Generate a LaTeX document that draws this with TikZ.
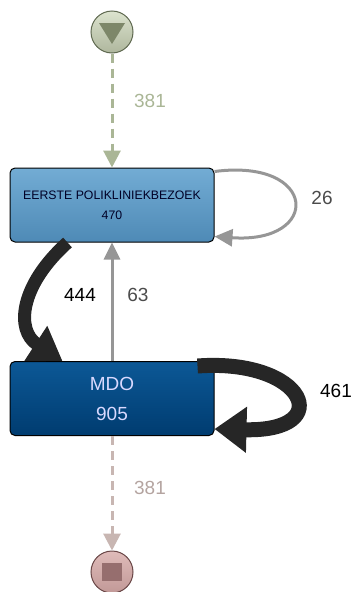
\documentclass[tikz,border=0pt]{standalone}
\usepackage{fontspec}
\setmainfont{Liberation Sans}
\usetikzlibrary{arrows.meta}
\definecolor{startfill}{RGB}{205,215,185}
\definecolor{startdraw}{RGB}{95,105,80}
\definecolor{startmark}{RGB}{125,135,105}
\definecolor{startedge}{RGB}{170,182,150}
\definecolor{endfill}{RGB}{215,170,168}
\definecolor{enddraw}{RGB}{105,70,70}
\definecolor{endmark}{RGB}{150,110,110}
\definecolor{endedge}{RGB}{200,182,178}
\definecolor{lighttop}{RGB}{115,172,212}
\definecolor{lightbot}{RGB}{78,138,182}
\definecolor{darktop}{RGB}{12,88,150}
\definecolor{darkbot}{RGB}{0,60,112}
\definecolor{looplight}{RGB}{150,150,150}
\definecolor{loopdark}{RGB}{100,100,100}
\definecolor{labelgrey}{RGB}{75,75,75}

\begin{document}
\begin{tikzpicture}
[x=1pt, y=1pt, every node/.style={inner sep=0pt},
 act/.style={rectangle, rounded corners=5pt, draw=black, line width=1pt, minimum width=204pt, minimum height=74pt, align=center},
 lbl/.style={font=\fontsize{19}{22}\selectfont}]
\useasboundingbox (0pt, 0pt) rectangle (354pt, -592pt);
\node (start) [circle, minimum size=42pt, top color=startfill!70!white, bottom color=startfill!85!black, line width=1pt, draw=startdraw] at (112pt, -32pt) {};
\node (eerste) [act, top color=lighttop, bottom color=lightbot, text=black!85!blue, font=\fontsize{12.3}{20}\selectfont] at (112pt, -205pt) {EERSTE POLIKLINIEKBEZOEK\\ 470};
\node (mdo) [act, top color=darktop, bottom color=darkbot, text=white!85!blue, font=\fontsize{19}{30}\selectfont] at (112pt, -398.5pt) {MDO\\ 905};
\node (end) [circle, minimum size=42pt, top color=endfill!80!white, bottom color=endfill!90!black, line width=1pt, draw=enddraw] at (112pt, -572pt) {};
\fill [startmark] ([shift={(-13pt, 9pt)}]start.center) -- ([shift={(13pt, 9pt)}]start.center) -- ([shift={(0pt, -12pt)}]start.center) -- cycle;
\fill [endmark] ([shift={(-10pt, -9pt)}]end.center) rectangle ([shift={(10pt, 9pt)}]end.center);
\draw [line width=3pt, dash pattern=on 9pt off 6pt, -{Triangle[length=17pt, width=17pt]}, color=startedge] (start) to (eerste);
\draw [line width=3pt, -{Triangle[length=18pt, width=17pt]}, color=looplight] ([yshift=-4pt]eerste.north east) .. controls (318pt, -158pt) and (322pt, -244pt) .. ([yshift=6pt]eerste.south east);
\draw [line width=13pt, -{Triangle[length=32pt, width=40pt]}, color=black!85] ([xshift=58pt]eerste.south west) .. controls (20pt, -285pt) and (15pt, -330pt) .. ([xshift=53pt]mdo.north west);
\draw [line width=3pt, -{Triangle[length=17pt, width=16pt]}, color=looplight] (mdo) to (eerste);
\draw [line width=15pt, -{Triangle[length=32pt, width=44pt]}, color=black!85] ([xshift=-17pt, yshift=-5pt]mdo.north east) .. controls (305pt, -358pt) and (338pt, -432pt) .. ([yshift=7pt]mdo.south east);
\draw [line width=3pt, dash pattern=on 9pt off 6pt, -{Triangle[length=17pt, width=17pt]}, color=endedge] (mdo) to (end);
\node (n381a) [lbl, text=startedge] at (150pt, -101pt) {381};
\node (n26) [lbl, text=labelgrey] at (322pt, -198pt) {26};
\node (n444) [lbl, text=black] at (80pt, -295pt) {444};
\node (n63) [lbl, text=labelgrey] at (138pt, -295pt) {63};
\node (n461) [lbl, text=black] at (336pt, -391pt) {461};
\node (n381b) [lbl, text=endedge!90!black] at (150pt, -488pt) {381};
\end{tikzpicture}
\end{document}
